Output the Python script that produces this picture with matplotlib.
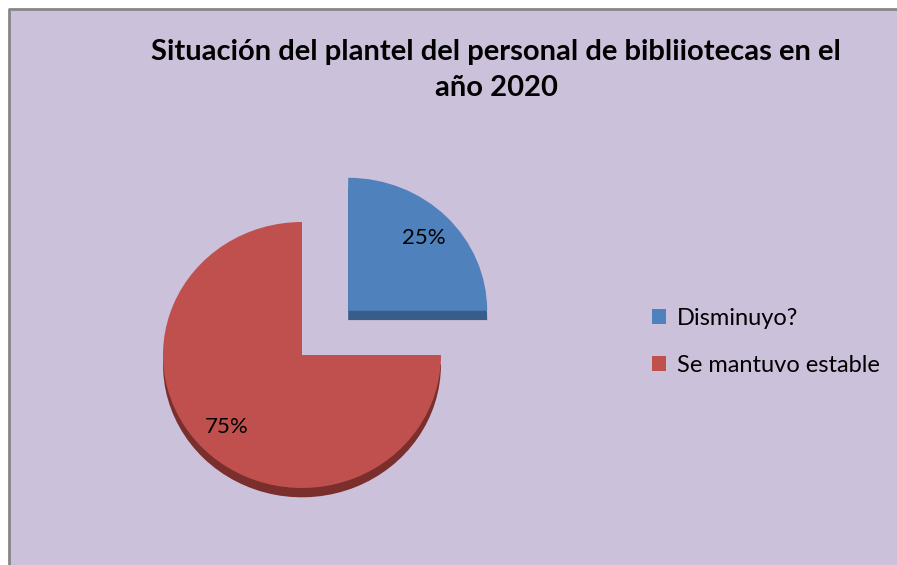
import matplotlib.pyplot as plt
from matplotlib.patches import Rectangle
from matplotlib.lines import Line2D

# Data
labels = ['Disminuyo?', 'Se mantuvo estable']
values = [25, 75]
colors = ['#4F81BD', '#C0504D']
side_colors = ['#385D8A', '#7A2F2D']
title = 'Situación del plantel del personal de bibliiotecas en el\naño 2020'

plt.rcParams['font.family'] = ['Lato', 'DejaVu Sans']

fig = plt.figure(figsize=(8.97, 5.65), dpi=100)
fig.patch.set_facecolor('white')

# chart area background, grey border only on top and left
x0, y1 = 9 / 897, 1 - 9 / 565
fig.patches.append(Rectangle((x0, 0), 1 - x0, y1, transform=fig.transFigure,
                             facecolor='#CCC1DA', edgecolor='none', zorder=-5))
fig.lines.append(Line2D([x0, x0, 1], [0, y1, y1], transform=fig.transFigure,
                        color='#868686', linewidth=2, zorder=-4))

# axes placed so the pie sits left of centre
ax = fig.add_axes([102 / 897, 10 / 565, 400 / 897, 400 / 565])
ax.set_zorder(2)

explode = [0.47, 0]

# darker copy underneath, shifted down, for the 3D edge
ax.pie(values, explode=explode, colors=side_colors, startangle=90, counterclock=False,
       center=(0, -0.07), radius=1.0, frame=True)

wedges, texts, autotexts = ax.pie(values, explode=explode, colors=colors, startangle=90,
                                  counterclock=False, autopct='%d%%', pctdistance=0.77,
                                  radius=1.0, frame=True,
                                  textprops={'fontsize': 16, 'color': 'black'})
ax.set_xlim(-200 / 139, 200 / 139)
ax.set_ylim(-200 / 133, 200 / 133)
ax.set_aspect('auto')
ax.set_facecolor('none')
ax.axis('off')

fig.text(496 / 897, 1 - 70 / 565, title, ha='center', va='center', fontsize=21,
         fontweight='bold', linespacing=1.5)

fig.legend(wedges, labels, loc='center left', bbox_to_anchor=(631 / 897, 1 - 342 / 565),
           frameon=False, fontsize=17, handlelength=0.6, handleheight=0.6,
           handletextpad=0.45, labelspacing=1.1)

fig.savefig('out.png', dpi=100, facecolor=fig.get_facecolor())
